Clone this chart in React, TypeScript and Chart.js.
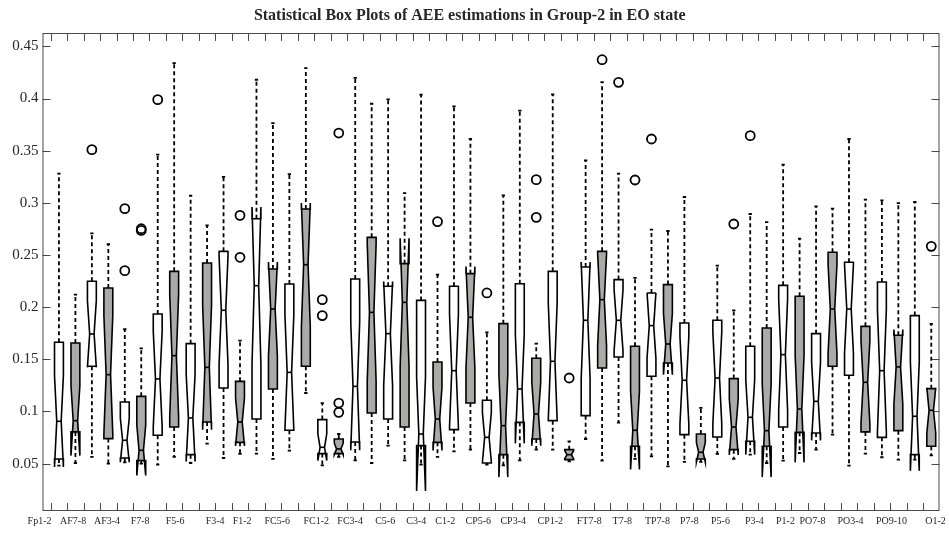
import React, { useEffect, useRef } from 'react';
import { Chart, registerables } from 'chart.js';

Chart.register(...registerables);

// 27 electrode-pair labels (one label per two boxes)
const xLabels = [
  'Fp1-2', 'AF7-8', 'AF3-4', 'F7-8', 'F5-6', 'F3-4', 'F1-2', 'FC5-6', 'FC1-2',
  'FC3-4', 'C5-6', 'C3-4', 'C1-2', 'CP5-6', 'CP3-4', 'CP1-2', 'FT7-8', 'T7-8',
  'TP7-8', 'P7-8', 'P5-6', 'P3-4', 'P1-2', 'PO7-8', 'PO3-4', 'PO9-10', 'O1-2',
];
// where each label sits, in box-position units (boxes are at 1..54)
const xLabelPos = [
  -0.18, 1.86, 3.92, 5.93, 8.06, 10.49, 12.13, 14.26, 16.63, 18.69, 20.82, 22.71,
  24.47, 26.48, 28.6, 30.85, 33.22, 35.23, 37.36, 39.3, 41.19, 43.25, 45.14,
  46.78, 49.09, 51.58, 54.26,
];
const yTicks = [0.05, 0.1, 0.15, 0.2, 0.25, 0.3, 0.35, 0.4, 0.45];

// box statistics, one entry per box (54 boxes)
const whiskerLow = [
  0.048, 0.0506, 0.0564, 0.05, 0.0513, 0.05, 0.049, 0.0564, 0.0506,
  0.0692, 0.0554, 0.0593, 0.0596, 0.0545, 0.0625, 0.1177, 0.0484, 0.0564,
  0.0532, 0.0506, 0.0673, 0.0532, 0.049, 0.0564, 0.0618, 0.0634, 0.049,
  0.0484, 0.0532, 0.0634, 0.0634, 0.0522, 0.0736, 0.0529, 0.0893, 0.0545,
  0.057, 0.0474, 0.0516, 0.0516, 0.0593, 0.0545, 0.0586, 0.0506, 0.0529,
  0.0602, 0.0634, 0.0778, 0.0481, 0.0596, 0.0561, 0.0538, 0.0538, 0.058,
];
const quartile1 = [
  0.0545, 0.0804, 0.1433, 0.074, 0.0554, 0.0529, 0.0772, 0.0851, 0.0586,
  0.0899, 0.1225, 0.0704, 0.0928, 0.1216, 0.082, 0.1433, 0.0596, 0.0596,
  0.0708, 0.0986, 0.0928, 0.0851, 0.0673, 0.0704, 0.0826, 0.1081, 0.0506,
  0.0586, 0.0896, 0.0736, 0.0912, 0.0538, 0.096, 0.1417, 0.1522, 0.0666,
  0.1337, 0.1465, 0.0778, 0.0545, 0.0756, 0.0634, 0.0714, 0.0666, 0.0851,
  0.08, 0.0794, 0.1433, 0.1347, 0.0804, 0.0752, 0.0816, 0.0586, 0.0666,
];
const medians = [
  0.0906, 0.0912, 0.1743, 0.1353, 0.0724, 0.0628, 0.1312, 0.1535, 0.0938,
  0.1423, 0.197, 0.0899, 0.2206, 0.1982, 0.1375, 0.2407, 0.0657, 0.0641,
  0.1241, 0.195, 0.1746, 0.2046, 0.0784, 0.0928, 0.1391, 0.1903, 0.0752,
  0.0864, 0.1216, 0.0976, 0.1481, 0.0586, 0.1874, 0.2072, 0.1874, 0.082,
  0.1823, 0.1647, 0.1299, 0.0609, 0.1321, 0.0851, 0.0944, 0.0816, 0.1545,
  0.1024, 0.1097, 0.1982, 0.1982, 0.128, 0.1391, 0.1427, 0.0954, 0.1011,
];
const quartile3 = [
  0.1663, 0.1657, 0.2248, 0.2184, 0.1091, 0.1145, 0.1935, 0.2343, 0.165,
  0.2423, 0.2535, 0.1289, 0.2848, 0.2366, 0.2222, 0.2941, 0.0922, 0.0736,
  0.227, 0.2669, 0.22, 0.2417, 0.2065, 0.1474, 0.22, 0.2321, 0.1107,
  0.1842, 0.2225, 0.151, 0.2343, 0.0634, 0.2385, 0.2535, 0.2264, 0.1625,
  0.2136, 0.2216, 0.1848, 0.0784, 0.1874, 0.1315, 0.1625, 0.18, 0.2209,
  0.2104, 0.1746, 0.2526, 0.243, 0.1816, 0.2241, 0.173, 0.1919, 0.1219,
];
const whiskerHigh = [
  0.328, 0.212, 0.2708, 0.2605, 0.1788, 0.1605, 0.3462, 0.434, 0.3069,
  0.2784, 0.3248, 0.1679, 0.418, 0.3765, 0.3276, 0.4292, 0.1081, 0.0784,
  0.4197, 0.395, 0.3992, 0.3094, 0.4037, 0.2311, 0.3925, 0.3612, 0.1759,
  0.3072, 0.3883, 0.165, 0.404, 0.0714, 0.3407, 0.4158, 0.328, 0.228,
  0.2743, 0.273, 0.3056, 0.1034, 0.2398, 0.197, 0.2893, 0.2816, 0.3366,
  0.2657, 0.2966, 0.2944, 0.3612, 0.303, 0.3024, 0.2998, 0.3008, 0.1839,
];
// outliers: [box index (0-based), value]
const outliers: [number, number][] = [
  [2, 0.351], [4, 0.2944], [4, 0.235], [5, 0.2752], [5, 0.2736], [6, 0.3989],
  [11, 0.288], [11, 0.2478], [16, 0.2072], [16, 0.1919], [17, 0.3669],
  [17, 0.1081], [17, 0.0992], [23, 0.282], [26, 0.2136], [29, 0.3222],
  [29, 0.2861], [31, 0.1321], [33, 0.4372], [34, 0.4155], [35, 0.3219],
  [36, 0.3612], [41, 0.2797], [42, 0.3644], [53, 0.2583],
];
const sampleSize = 16; // notch half-height = 1.57 * IQR / sqrt(n)

const TITLE = 'Statistical Box Plots of AEE estimations in Group-2 in EO state';
const FONT = "'Liberation Serif', 'Times New Roman', serif";
const GRAY = '#aca9a9';

const boxPlugin = {
  id: 'boxes',
  beforeDatasetsDraw(chart: any) {
    const { ctx, chartArea: a } = chart;
    const xs = chart.scales.x;
    const ys = chart.scales.y;
    const unit = xs.getPixelForValue(1) - xs.getPixelForValue(0);
    const hw = 0.27 * unit;
    const nw = 0.5 * hw;
    const cap = 0.1 * unit;
    const k = 1.57 / Math.sqrt(sampleSize);
    ctx.save();
    // frame
    ctx.strokeStyle = '#4a4a4a';
    ctx.lineWidth = 1;
    ctx.strokeRect(a.left + 0.5, a.top + 0.5, a.right - a.left - 1, a.bottom - a.top - 1);
    const tl = 8;
    ctx.beginPath();
    for (let t = 0; t < 54; t++) {
      const px = Math.round(xs.getPixelForValue(t + 0.5)) + 0.5;
      ctx.moveTo(px, a.bottom);
      ctx.lineTo(px, a.bottom - tl);
      ctx.moveTo(px, a.top);
      ctx.lineTo(px, a.top + tl);
    }
    for (const v of yTicks) {
      const py = Math.round(ys.getPixelForValue(v)) + 0.5;
      ctx.moveTo(a.left, py);
      ctx.lineTo(a.left + tl, py);
      ctx.moveTo(a.right, py);
      ctx.lineTo(a.right - tl, py);
    }
    ctx.stroke();

    for (let i = 0; i < medians.length; i++) {
      const x = xs.getPixelForValue(i + 1);
      const Y = (v: number) => ys.getPixelForValue(v);
      const q1 = quartile1[i], q3 = quartile3[i], med = medians[i];
      const iqr = q3 - q1;
      const nlo = med - k * iqr;
      const nhi = med + k * iqr;
      // whiskers
      ctx.strokeStyle = '#000';
      ctx.lineWidth = 1.8;
      ctx.setLineDash([4, 3]);
      ctx.beginPath();
      ctx.moveTo(x, Y(q3));
      ctx.lineTo(x, Y(whiskerHigh[i]));
      ctx.moveTo(x, Y(q1));
      ctx.lineTo(x, Y(whiskerLow[i]));
      ctx.stroke();
      ctx.setLineDash([]);
      // caps
      ctx.lineWidth = 1.8;
      ctx.beginPath();
      ctx.moveTo(x - cap, Y(whiskerHigh[i]));
      ctx.lineTo(x + cap, Y(whiskerHigh[i]));
      ctx.moveTo(x - cap, Y(whiskerLow[i]));
      ctx.lineTo(x + cap, Y(whiskerLow[i]));
      ctx.stroke();
      // notched box
      ctx.beginPath();
      ctx.moveTo(x - hw, Y(q1));
      ctx.lineTo(x - hw, Y(nlo));
      ctx.lineTo(x - nw, Y(med));
      ctx.lineTo(x - hw, Y(nhi));
      ctx.lineTo(x - hw, Y(q3));
      ctx.lineTo(x + hw, Y(q3));
      ctx.lineTo(x + hw, Y(nhi));
      ctx.lineTo(x + nw, Y(med));
      ctx.lineTo(x + hw, Y(nlo));
      ctx.lineTo(x + hw, Y(q1));
      ctx.closePath();
      ctx.fillStyle = i % 2 === 1 ? GRAY : '#ffffff';
      ctx.fill();
      ctx.lineWidth = 1.6;
      ctx.stroke();
      // median
      ctx.beginPath();
      ctx.moveTo(x - nw, Y(med));
      ctx.lineTo(x + nw, Y(med));
      ctx.stroke();
    }
    ctx.restore();
  },
};

export default function App() {
  const ref = useRef<HTMLCanvasElement | null>(null);
  useEffect(() => {
    if (!ref.current) return;
    const chart = new Chart(ref.current, {
      type: 'scatter',
      data: {
        datasets: [
          {
            label: 'outliers',
            data: outliers.map(([i, v]) => ({ x: i + 1, y: v })),
            pointStyle: 'circle',
            pointRadius: 4.5,
            pointBorderWidth: 1.8,
            pointBorderColor: '#000',
            pointBackgroundColor: 'rgba(0,0,0,0)',
            clip: false,
          } as any,
        ],
      },
      options: {
        animation: false,
        responsive: false,
        layout: { padding: { left: 0, right: 9.5, top: 0, bottom: 0 } },
        plugins: {
          legend: { display: false },
          tooltip: { enabled: false },
          title: {
            display: true,
            text: TITLE,
            color: '#262626',
            font: { family: FONT, size: 16, weight: 'bold', lineHeight: 1.2 },
            padding: { top: 6, bottom: 7.8 },
          },
        },
        scales: {
          x: {
            type: 'linear',
            min: 0,
            max: 54.5,
            grid: { display: false, drawTicks: false },
            border: { display: false },
            afterBuildTicks: (s: any) => {
              s.ticks = xLabelPos.map((v) => ({ value: v }));
            },
            afterFit: (s: any) => {
              s.height = 22;
              s.paddingLeft = 0;
              s.paddingRight = 0;
            },
            ticks: {
              autoSkip: false,
              maxRotation: 0,
              minRotation: 0,
              padding: 4,
              color: '#262626',
              font: { family: FONT, size: 10 },
              callback: (_v: any, i: number) => xLabels[i],
            },
          },
          y: {
            type: 'linear',
            min: 0.0046,
            max: 0.4628,
            grid: { display: false, drawTicks: false },
            border: { display: false },
            afterBuildTicks: (s: any) => {
              s.ticks = yTicks.map((v) => ({ value: v }));
            },
            afterFit: (s: any) => {
              s.width = 42.5;
              s.paddingTop = 0;
              s.paddingBottom = 0;
            },
            ticks: {
              padding: 4,
              color: '#262626',
              font: { family: FONT, size: 15 },
              callback: (v: any) => String(Math.round(Number(v) * 100) / 100),
            },
          },
        },
      } as any,
      plugins: [boxPlugin],
    });
    return () => chart.destroy();
  }, []);
  return (
    <div style={{ position: 'absolute', left: 0, top: 0, width: 949, height: 533, background: '#fff' }}>
      <canvas ref={ref} width={949} height={533} style={{ display: 'block' }} />
    </div>
  );
}
